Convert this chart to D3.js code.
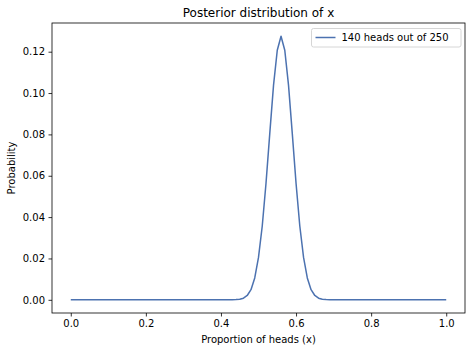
<!DOCTYPE html>
<html>
<head>
<meta charset="utf-8">
<script src="https://cdn.jsdelivr.net/npm/d3@7"></script>
<style>
  body { margin: 0; background: #fff; }
  svg { display: block; font-family: "DejaVu Sans", sans-serif; }
</style>
</head>
<body>
<div id="chart"></div>
<script>
// Grid of proportions (x) and posterior probability
const xValues = [
  0.00, 0.01, 0.02, 0.03, 0.04, 0.05, 0.06, 0.07, 0.08, 0.09,
  0.10, 0.11, 0.12, 0.13, 0.14, 0.15, 0.16, 0.17, 0.18, 0.19,
  0.20, 0.21, 0.22, 0.23, 0.24, 0.25, 0.26, 0.27, 0.28, 0.29,
  0.30, 0.31, 0.32, 0.33, 0.34, 0.35, 0.36, 0.37, 0.38, 0.39,
  0.40, 0.41, 0.42, 0.43, 0.44, 0.45, 0.46, 0.47, 0.48, 0.49,
  0.50, 0.51, 0.52, 0.53, 0.54, 0.55, 0.56, 0.57, 0.58, 0.59,
  0.60, 0.61, 0.62, 0.63, 0.64, 0.65, 0.66, 0.67, 0.68, 0.69,
  0.70, 0.71, 0.72, 0.73, 0.74, 0.75, 0.76, 0.77, 0.78, 0.79,
  0.80, 0.81, 0.82, 0.83, 0.84, 0.85, 0.86, 0.87, 0.88, 0.89,
  0.90, 0.91, 0.92, 0.93, 0.94, 0.95, 0.96, 0.97, 0.98, 0.99,
  1.00
];
const probValues = [
  0, 0, 0, 0, 0, 0, 0, 0, 0, 0,
  0, 0, 0, 0, 0, 0, 0, 0, 0, 0,
  0, 0, 0, 0, 0, 0, 0, 0, 0, 0,
  0, 0, 0, 0, 0, 0, 0, 0, 0, 0,
  0, 0, 0, 0, 0.0001, 0.0003, 0.0008, 0.0021, 0.0049, 0.0106,
  0.0205, 0.0357, 0.0564, 0.0804, 0.1037, 0.1207, 0.1275, 0.1207, 0.1037, 0.0804,
  0.0564, 0.0357, 0.0205, 0.0106, 0.0049, 0.0021, 0.0008, 0.0003, 0.0001, 0,
  0, 0, 0, 0, 0, 0, 0, 0, 0, 0,
  0, 0, 0, 0, 0, 0, 0, 0, 0, 0,
  0, 0, 0, 0, 0, 0, 0, 0, 0, 0,
  0
];
const xTicks = [0, 0.2, 0.4, 0.6, 0.8, 1.0];
const yTicks = [0, 0.02, 0.04, 0.06, 0.08, 0.10, 0.12];
const seriesLabel = "140 heads out of 250";

const data = xValues.map((x, i) => ({ x: x, y: probValues[i] }));

// Figure and axes box (matplotlib-like)
const W = 472, H = 352;
const margin = { top: 23, right: 7, bottom: 39, left: 52 };
const width = W - margin.left - margin.right;
const height = H - margin.top - margin.bottom;

const svg = d3.select("#chart")
  .append("svg")
  .attr("width", W)
  .attr("height", H);

const g = svg.append("g")
  .attr("transform", "translate(" + margin.left + "," + margin.top + ")");

// 5% padding on each side like matplotlib autoscale
const xMin = d3.min(xValues), xMax = d3.max(xValues);
const yMin = d3.min(probValues), yMax = d3.max(probValues);
const xPad = (xMax - xMin) * 0.05, yPad = (yMax - yMin) * 0.05;

const xScale = d3.scaleLinear()
  .domain([xMin - xPad, xMax + xPad])
  .range([0, width]);
const yScale = d3.scaleLinear()
  .domain([yMin - yPad, yMax + yPad])
  .range([height, 0]);

const xAxis = d3.axisBottom(xScale)
  .tickValues(xTicks)
  .tickFormat(d3.format(".1f"))
  .tickSizeInner(3.5)
  .tickSizeOuter(0)
  .tickPadding(3.5);
const yAxis = d3.axisLeft(yScale)
  .tickValues(yTicks)
  .tickFormat(d3.format(".2f"))
  .tickSizeInner(3.5)
  .tickSizeOuter(0)
  .tickPadding(3.5);

g.append("g")
  .attr("class", "x-axis")
  .attr("transform", "translate(0," + height + ")")
  .call(xAxis);
g.append("g")
  .attr("class", "y-axis")
  .call(yAxis);

g.selectAll(".domain").remove();
g.selectAll(".tick line").attr("stroke", "#000").attr("stroke-width", 0.8);
g.selectAll(".tick text")
  .attr("fill", "#000")
  .style("font-size", "10px")
  .style("font-family", "DejaVu Sans, sans-serif");

// Line
const line = d3.line()
  .x((d) => xScale(d.x))
  .y((d) => yScale(d.y));

g.append("path")
  .datum(data)
  .attr("fill", "none")
  .attr("stroke", "#4c72b0")
  .attr("stroke-width", 1.5)
  .attr("stroke-linejoin", "round")
  .attr("d", line);

// Frame
g.append("rect")
  .attr("x", 0)
  .attr("y", 0)
  .attr("width", width)
  .attr("height", height)
  .attr("fill", "none")
  .attr("stroke", "#000")
  .attr("stroke-width", 0.8);

// Title and axis labels
svg.append("text")
  .attr("x", margin.left + width / 2)
  .attr("y", 17)
  .attr("text-anchor", "middle")
  .style("font-size", "12px")
  .text("Posterior distribution of x");

svg.append("text")
  .attr("x", margin.left + width / 2)
  .attr("y", 343)
  .attr("text-anchor", "middle")
  .style("font-size", "10px")
  .text("Proportion of heads (x)");

svg.append("text")
  .attr("transform", "translate(15," + (margin.top + height / 2) + ") rotate(-90)")
  .attr("text-anchor", "middle")
  .style("font-size", "10px")
  .text("Probability");

// Legend
const legend = g.append("g")
  .attr("transform", "translate(" + (width - 153.5) + ",5.5)");
legend.append("rect")
  .attr("width", 149.5)
  .attr("height", 18.5)
  .attr("rx", 2)
  .attr("fill", "#fff")
  .attr("fill-opacity", 0.8)
  .attr("stroke", "#ccc")
  .attr("stroke-width", 0.8);
legend.append("line")
  .attr("x1", 4)
  .attr("x2", 24)
  .attr("y1", 9)
  .attr("y2", 9)
  .attr("stroke", "#4c72b0")
  .attr("stroke-width", 1.5);
legend.append("text")
  .attr("x", 30)
  .attr("y", 12.5)
  .style("font-size", "10px")
  .text(seriesLabel);
</script>
</body>
</html>
